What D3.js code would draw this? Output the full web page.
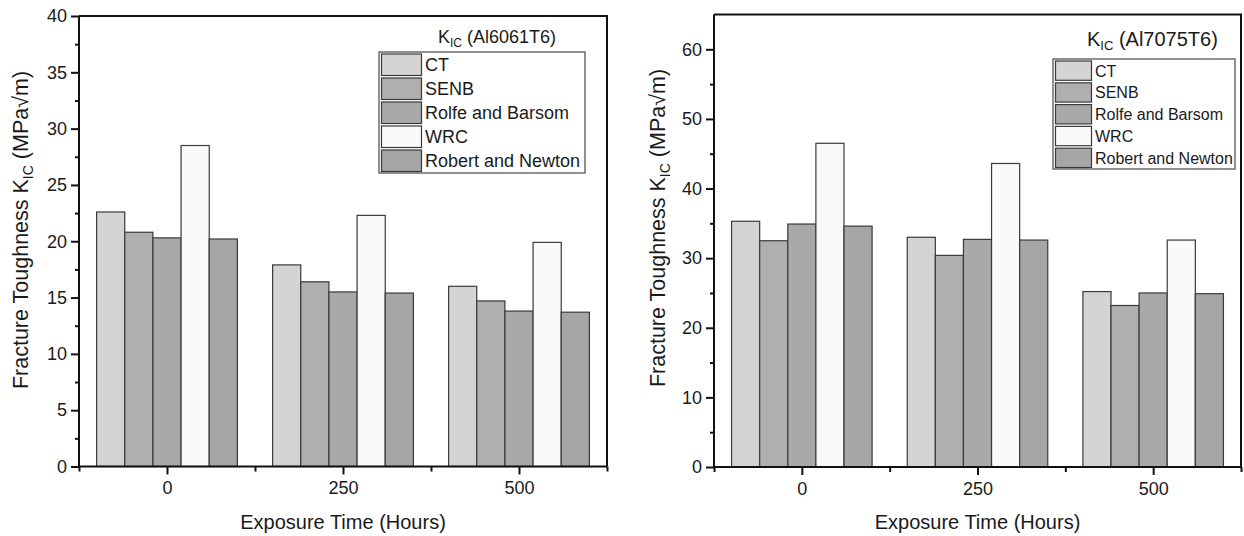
<!DOCTYPE html>
<html>
<head>
<meta charset="utf-8">
<title>Fracture toughness</title>
<script src="https://d3js.org/d3.v7.min.js"></script>
<style>
  body { margin: 0; background: #fff; }
  text { font-family: "Liberation Sans", Arial, sans-serif; fill: #1a1a1a; }
</style>
</head>
<body>
<svg id="chart" width="1244" height="536"></svg>
<script>

// exposure times (hours) and the five estimation methods
var times = [0, 250, 500]
var methods = ['CT', 'SENB', 'Rolfe and Barsom', 'WRC', 'Robert and Newton']

// Al6061T6, K_IC values per method
var al6061_CT = [22.6, 17.9, 16.0]
var al6061_SENB = [20.8, 16.4, 14.7]
var al6061_Rolfe = [20.3, 15.5, 13.8]
var al6061_WRC = [28.5, 22.3, 19.9]
var al6061_Robert = [20.2, 15.4, 13.7]

// Al7075T6, K_IC values per method
var al7075_CT = [35.3, 33.0, 25.2]
var al7075_SENB = [32.5, 30.4, 23.2]
var al7075_Rolfe = [34.9, 32.7, 25.0]
var al7075_WRC = [46.5, 43.6, 32.6]
var al7075_Robert = [34.6, 32.6, 24.9]

var fills = ['#d4d4d4', '#afafaf', '#a9a9a9', '#fafafa', '#a6a6a6']

var svg = d3.select('#chart')

drawPanel({
  series: [al6061_CT, al6061_SENB, al6061_Rolfe, al6061_WRC, al6061_Robert],
  alloy: '(Al6061T6)',
  left: 79, right: 607, top: 16, bottom: 466.5,
  yMax: 40, yMajor: d3.range(0, 41, 5), yMinor: d3.range(2.5, 40, 5),
  yLabelX: 20, yLabelY: 230,
  title: {x: 438, y: 43, size: 18},
  legend: {x: 379, y: 52, w: 206, row: 24, sw: 40, size: 18}
})

drawPanel({
  series: [al7075_CT, al7075_SENB, al7075_Rolfe, al7075_WRC, al7075_Robert],
  alloy: '(Al7075T6)',
  left: 714, right: 1241, top: 14.5, bottom: 467,
  yMax: 65, yMajor: d3.range(0, 61, 10), yMinor: d3.range(5, 65, 10),
  yLabelX: 657, yLabelY: 228,
  title: {x: 1087, y: 46, size: 20},
  legend: {x: 1053, y: 59, w: 182, row: 21.8, sw: 36, size: 16}
})

function drawPanel(o) {
  var g = svg.append('g')

  var x = d3.scaleLinear().domain([-125, 625]).range([o.left, o.right])
  var y = d3.scaleLinear().domain([0, o.yMax]).range([o.bottom, o.top])
  var bw = 40 // bar width in hours

  // bars
  o.series.forEach(function(vals, i) {
    g.selectAll('.bar' + i)
      .data(vals)
      .enter()
      .append('rect')
      .attr('x', function(d, j) { return x(times[j] - 100 + bw * i) })
      .attr('width', x(bw) - x(0))
      .attr('y', function(d) { return y(d) })
      .attr('height', function(d) { return y(0) - y(d) })
      .attr('fill', fills[i])
      .attr('stroke', '#3a3a3a')
      .attr('stroke-width', 1.2)
  })

  // frame top + right
  g.append('path')
    .attr('d', 'M' + o.left + ',' + o.top + 'H' + o.right + 'V' + o.bottom)
    .attr('fill', 'none')
    .attr('stroke', '#111')
    .attr('stroke-width', 2)

  // y axis
  var ya = g.append('g')
    .attr('transform', 'translate(' + o.left + ',0)')
    .call(d3.axisLeft(y).tickValues(o.yMajor).tickSize(8).tickPadding(4).tickFormat(d3.format('d')))
  g.append('g')
    .attr('transform', 'translate(' + o.left + ',0)')
    .call(d3.axisLeft(y).tickValues(o.yMinor).tickSize(4).tickFormat(''))
    .select('.domain').remove()

  // x axis
  var xa = g.append('g')
    .attr('transform', 'translate(0,' + o.bottom + ')')
    .call(d3.axisBottom(x).tickValues(times).tickSize(8).tickPadding(7))
  g.append('g')
    .attr('transform', 'translate(0,' + o.bottom + ')')
    .call(d3.axisBottom(x).tickValues([-125, 125, 375, 625]).tickSize(5).tickFormat(''))
    .select('.domain').remove()

  g.selectAll('.domain').attr('stroke', '#111').attr('stroke-width', 2)
  g.selectAll('.tick line').attr('stroke', '#111').attr('stroke-width', 2)
  g.selectAll('.tick text').style('font-size', '18px').attr('fill', '#1a1a1a')
  ya.selectAll('path.domain').attr('d', 'M0,' + (o.bottom + 1) + 'V' + o.top)
  xa.selectAll('path.domain').attr('d', 'M' + o.left + ',0H' + o.right)

  // axis titles
  g.append('text')
    .attr('x', x(250))
    .attr('y', 529)
    .attr('text-anchor', 'middle')
    .style('font-size', '20px')
    .text('Exposure Time (Hours)')

  var yl = g.append('text')
    .attr('transform', 'translate(' + o.yLabelX + ',' + o.yLabelY + ') rotate(-90)')
    .attr('text-anchor', 'middle')
    .attr('dy', '0.35em')
    .style('font-size', '21.5px')
  yl.append('tspan').text('Fracture Toughness K')
  yl.append('tspan').attr('dy', 5).style('font-size', '14px').text('IC')
  yl.append('tspan').attr('dy', -5).text(' (MPa\u221Am)')

  // legend title
  var t = g.append('text')
    .attr('x', o.title.x)
    .attr('y', o.title.y)
    .style('font-size', o.title.size + 'px')
  t.append('tspan').text('K')
  t.append('tspan').attr('dy', 4).style('font-size', Math.round(o.title.size * 0.65) + 'px').text('IC')
  t.append('tspan').attr('dy', -4).text(' ' + o.alloy)

  // legend box
  var L = o.legend
  g.append('rect')
    .attr('x', L.x).attr('y', L.y)
    .attr('width', L.w).attr('height', L.row * methods.length + 1)
    .attr('fill', '#fff')
    .attr('stroke', '#555')
    .attr('stroke-width', 1.3)

  var items = g.selectAll('.leg')
    .data(methods)
    .enter()
    .append('g')
    .attr('transform', function(d, i) { return 'translate(' + L.x + ',' + (L.y + i * L.row) + ')' })

  items.append('rect')
    .attr('x', 2.5).attr('y', 2)
    .attr('width', L.sw).attr('height', L.row - 2.5)
    .attr('fill', function(d, i) { return fills[i] })
    .attr('stroke', '#3a3a3a')
    .attr('stroke-width', 1.2)

  items.append('text')
    .attr('x', L.sw + 6)
    .attr('y', L.row / 2 + 1)
    .attr('dy', '0.35em')
    .style('font-size', L.size + 'px')
    .text(function(d) { return d })
}

</script>
</body>
</html>
